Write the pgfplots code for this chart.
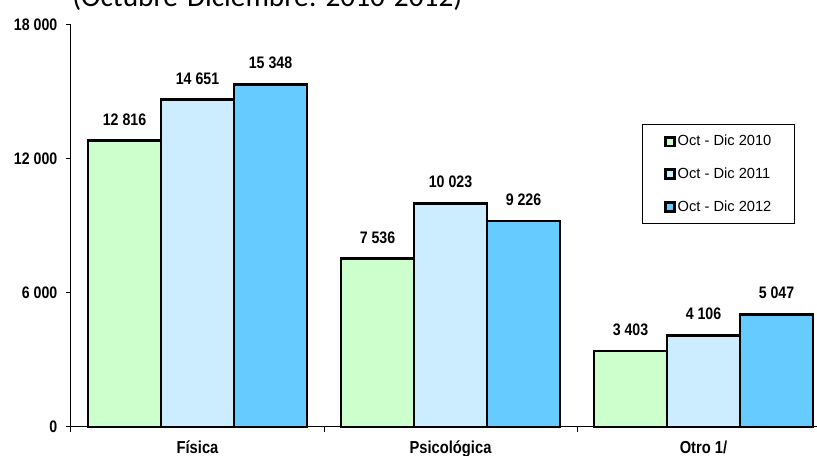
\documentclass[border=0pt]{standalone}
\usepackage{fontspec}
\setmainfont{Liberation Sans}
\newfontfamily\nb[FakeStretch=0.85]{Liberation Sans}
\newfontfamily\titlefont{Carlito}
\usepackage{pgfplots}
\pgfplotsset{compat=1.18}
\definecolor{cA}{HTML}{CCFFCC}
\definecolor{cB}{HTML}{CCECFF}
\definecolor{cC}{HTML}{66CCFF}
\begin{document}
\begin{tikzpicture}
\path[use as bounding box] (-53.25pt,-21.75pt) rectangle (559.5pt,320.25pt);
\clip (-53.25pt,-21.75pt) rectangle (559.5pt,320.25pt);
\begin{axis}[
 scale only axis, width=559.5pt, height=301.5pt,
 xmin=-0.5, xmax=2.4486, ymin=0, ymax=18000,
 axis lines*=left,
 axis line style={line width=0.75pt},
 ybar=0pt, bar width=54.75pt,
 tick align=outside,
 major tick length=3.75pt,
 tick style={black, line width=0.75pt},
 scaled y ticks=false,
 ytick={0,6000,12000,18000},
 yticklabels={0,6 000,12 000,18 000},
 yticklabel style={font=\nb\bfseries\fontsize{12.5}{14}\selectfont, xshift=-3pt},
 xtick={-0.5,0.5,1.5},
 xticklabels={},
 extra x ticks={0,1,2},
 extra x tick labels={Física,Psicológica,Otro 1/},
 extra x tick style={major tick length=0pt, tick label style={font=\nb\bfseries\fontsize{13}{15}\selectfont, anchor=base, yshift=-20pt}},
 nodes near coords, point meta=explicit symbolic,
 nodes near coords style={font=\nb\bfseries\fontsize{12.5}{14}\selectfont, anchor=south, inner sep=0pt, yshift=10.5pt},
 legend style={at={(0.7654,0.7537)}, anchor=north west, draw=black, line width=0.9pt,
   font=\fontsize{11}{13}\selectfont, inner xsep=16pt, inner ysep=6pt, row sep=11pt,
   nodes={inner xsep=1.5pt}},
 legend cell align=left,
 legend image code/.code={\draw[#1,draw=black,line width=2.2pt] (0pt,-3.3pt) rectangle (6.6pt,3.3pt);},
 clip=false,
]
\addplot[fill=cA, draw=black, line width=2.1pt] coordinates {(0,12816) [12 816] (1,7536) [7 536] (2,3403) [3 403]};
\addplot[fill=cB, draw=black, line width=2.1pt] coordinates {(0,14651) [14 651] (1,10023) [10 023] (2,4106) [4 106]};
\addplot[fill=cC, draw=black, line width=2.1pt] coordinates {(0,15348) [15 348] (1,9226) [9 226] (2,5047) [5 047]};
\legend{Oct - Dic 2010, Oct - Dic 2011, Oct - Dic 2012}
\end{axis}
\node[anchor=base west, font=\titlefont\fontsize{22}{26}\selectfont, inner sep=0pt] at (0.75pt,315pt) {(Octubre-Diciembre: 2010-2012)};
\end{tikzpicture}
\end{document}
